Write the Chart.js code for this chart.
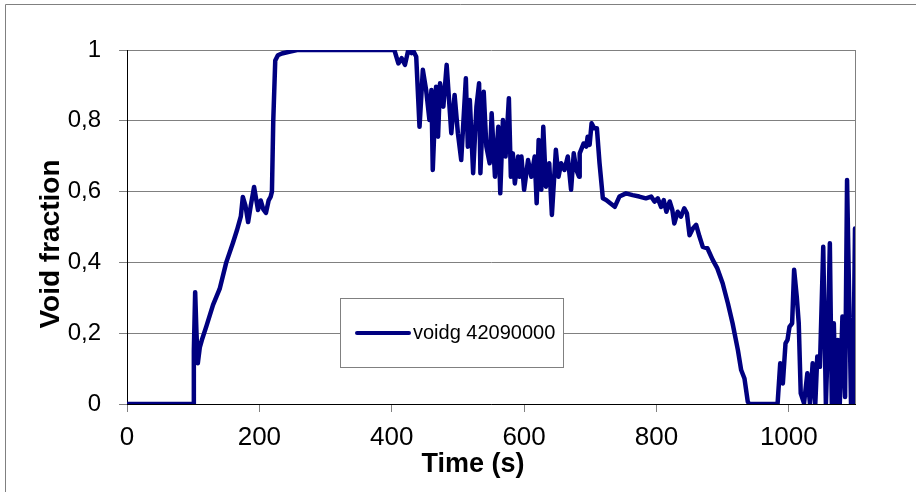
<!DOCTYPE html>
<html>
<head>
<meta charset="utf-8">
<script src="https://cdn.jsdelivr.net/npm/chart.js"></script>
<style>
html, body { margin: 0; padding: 0; background: #fff; }
canvas { display: block; }
</style>
</head>
<body>
<canvas id="voidChart" width="916" height="492"></canvas>
<script>
var seriesLabel = "voidg 42090000";
var xTitle = "Time (s)";
var yTitle = "Void fraction";
var xTicks = [0, 200, 400, 600, 800, 1000];
var yTicks = [0, 0.2, 0.4, 0.6, 0.8, 1];

// tijd (s)
var times = [
    0, 100, 101, 103, 105, 107, 110, 113, 120, 130, 140, 150, 160, 166, 172, 175, 179, 183, 187, 192,
    195, 198, 202, 206, 210, 214, 217, 219, 221, 224, 228, 234, 245, 257, 300, 382, 404, 410, 415, 420,
    425, 430, 432, 437, 442, 447, 452, 457, 460, 462, 467, 470, 473, 478, 483, 488, 490, 495, 500, 505,
    512, 515, 518, 523, 528, 532, 534, 539, 543, 548, 551, 556, 561, 564, 568, 572, 577, 580, 583, 586,
    591, 593, 596, 600, 606, 611, 616, 619, 622, 626, 629, 633, 638, 642, 648, 652, 656, 661, 666, 671,
    675, 679, 683, 684, 690, 694, 696, 699, 702, 706, 710, 714, 719, 724, 737, 744, 754, 764, 774, 784,
    792, 797, 802, 807, 811, 815, 820, 824, 827, 832, 837, 842, 846, 850, 855, 860, 865, 870, 877, 885,
    892, 900, 908, 915, 923, 928, 933, 938, 940, 983, 987, 991, 995, 998, 1001, 1005, 1008, 1012, 1015, 1018,
    1023, 1028, 1032, 1036, 1040, 1043, 1047, 1052, 1056, 1059, 1062, 1065, 1068, 1071, 1074, 1077, 1081, 1085, 1088, 1094,
    1097, 1100
];

// void fraction
var voidg = [
    0, 0, 0.15, 0.316, 0.2, 0.115, 0.16, 0.18, 0.22, 0.28, 0.325, 0.40, 0.455, 0.49, 0.53, 0.585, 0.56, 0.514, 0.56, 0.613,
    0.58, 0.548, 0.575, 0.55, 0.54, 0.575, 0.585, 0.60, 0.80, 0.97, 0.985, 0.99, 0.995, 1.0, 1.0, 1.0, 1.0, 0.962, 0.977, 0.958,
    1.0, 0.991, 1.0, 0.981, 0.783, 0.944, 0.887, 0.802, 0.887, 0.661, 0.896, 0.755, 0.906, 0.840, 0.958, 0.821, 0.765, 0.873, 0.765, 0.689,
    0.920, 0.727, 0.859, 0.652, 0.840, 0.906, 0.652, 0.882, 0.727, 0.680, 0.821, 0.642, 0.783, 0.595, 0.802, 0.699, 0.864, 0.642, 0.708, 0.623,
    0.699, 0.642, 0.699, 0.605, 0.689, 0.642, 0.699, 0.567, 0.746, 0.605, 0.783, 0.614, 0.680, 0.534, 0.718, 0.642, 0.680, 0.661, 0.699, 0.605,
    0.708, 0.661, 0.642, 0.708, 0.736, 0.727, 0.755, 0.732, 0.793, 0.779, 0.779, 0.680, 0.581, 0.576, 0.557, 0.586, 0.595, 0.590, 0.586, 0.581,
    0.586, 0.572, 0.581, 0.557, 0.576, 0.543, 0.572, 0.548, 0.510, 0.543, 0.529, 0.553, 0.539, 0.477, 0.496, 0.506, 0.473, 0.444, 0.440, 0.407,
    0.383, 0.341, 0.284, 0.228, 0.153, 0.096, 0.072, 0.0065, 0, 0, 0.115, 0.058, 0.171, 0.181, 0.218, 0.228, 0.379, 0.303, 0.228, 0.030,
    0.002, 0.087, 0, 0.115, 0, 0.134, 0.105, 0.444, 0, 0.181, 0.454, 0, 0.228, 0, 0.181, 0, 0.247, 0.02, 0.633, 0,
    0, 0.496
];

var points = [];
for (var i = 0; i < times.length; i++) {
    points.push({ x: times[i], y: voidg[i] });
}

var fontFamily = "'Liberation Sans', Arial, sans-serif";

// kader rond de figuur, rechterrand plotgebied, legenda en astitels
var framePlugin = {
    id: "frame",
    beforeDraw: function (chart) {
        var ctx = chart.ctx;
        ctx.save();
        ctx.fillStyle = "#fff";
        ctx.fillRect(0, 0, chart.width, chart.height);
        ctx.strokeStyle = "#808080";
        ctx.lineWidth = 1;
        ctx.beginPath();
        ctx.moveTo(5.5, chart.height);
        ctx.lineTo(5.5, 4.5);
        ctx.lineTo(chart.width, 4.5);
        ctx.stroke();
        ctx.restore();
    },
    beforeDatasetsDraw: function (chart) {
        var ctx = chart.ctx;
        var a = chart.chartArea;
        ctx.save();
        ctx.strokeStyle = "#808080";
        ctx.lineWidth = 1;
        ctx.beginPath();
        ctx.moveTo(Math.round(a.right) + 0.5, a.top);
        ctx.lineTo(Math.round(a.right) + 0.5, a.bottom);
        ctx.stroke();

        // legenda-box
        var bx = 340.5, by = 298.5, bw = 223, bh = 69;
        ctx.fillStyle = "#fff";
        ctx.fillRect(bx, by, bw, bh);
        ctx.strokeRect(bx, by, bw, bh);
        var ds = chart.data.datasets[0];
        ctx.strokeStyle = ds.borderColor;
        ctx.lineWidth = 4;
        ctx.lineCap = "round";
        ctx.beginPath();
        ctx.moveTo(357, 333);
        ctx.lineTo(409, 333);
        ctx.stroke();
        ctx.fillStyle = "#000";
        ctx.font = "20px " + fontFamily;
        ctx.textBaseline = "middle";
        ctx.fillText(ds.label, 413, 333);
        ctx.restore();
    },
    afterDraw: function (chart) {
        var ctx = chart.ctx;
        ctx.save();
        ctx.fillStyle = "#000";
        ctx.textAlign = "center";
        ctx.textBaseline = "middle";
        ctx.font = "bold 27px " + fontFamily;
        ctx.fillText(xTitle, 473, 465);
        ctx.translate(51, 244);
        ctx.rotate(-Math.PI / 2);
        ctx.font = "bold 28px " + fontFamily;
        ctx.fillText(yTitle, 0, 0);
        ctx.restore();
    }
};

new Chart(document.getElementById("voidChart"), {
    type: "line",
    data: {
        datasets: [{
            label: seriesLabel,
            data: points,
            borderColor: "#000080",
            borderWidth: 4.5,
            borderJoinStyle: "round",
            borderCapStyle: "round",
            pointRadius: 0,
            tension: 0,
            fill: false
        }]
    },
    options: {
        responsive: false,
        animation: false,
        layout: { padding: { left: 10, top: 50, right: 61, bottom: 8 } },
        plugins: {
            legend: { display: false },
            tooltip: { enabled: false }
        },
        scales: {
            x: {
                type: "linear",
                min: 0,
                max: 1100,
                afterBuildTicks: function (scale) {
                    scale.ticks = xTicks.map(function (v) { return { value: v }; });
                },
                afterFit: function (scale) { scale.height = 80; },
                grid: { drawOnChartArea: false, tickLength: 8, color: "#808080" },
                border: { color: "#000", width: 1 },
                ticks: {
                    color: "#000",
                    padding: 10,
                    maxRotation: 0,
                    font: { family: fontFamily, size: 26 },
                    callback: function (v) { return String(v); }
                }
            },
            y: {
                min: 0,
                max: 1,
                afterBuildTicks: function (scale) {
                    scale.ticks = yTicks.map(function (v) { return { value: v }; });
                },
                afterFit: function (scale) { scale.width = 117; },
                grid: { color: "#808080", tickLength: 8 },
                border: { color: "#000", width: 1 },
                ticks: {
                    color: "#000",
                    padding: 18,
                    font: { family: fontFamily, size: 24 },
                    callback: function (v) {
                        if (v === 0 || v === 1) return String(v);
                        return v.toFixed(1).replace(".", ",");
                    }
                }
            }
        }
    },
    plugins: [framePlugin]
});
</script>
</body>
</html>
